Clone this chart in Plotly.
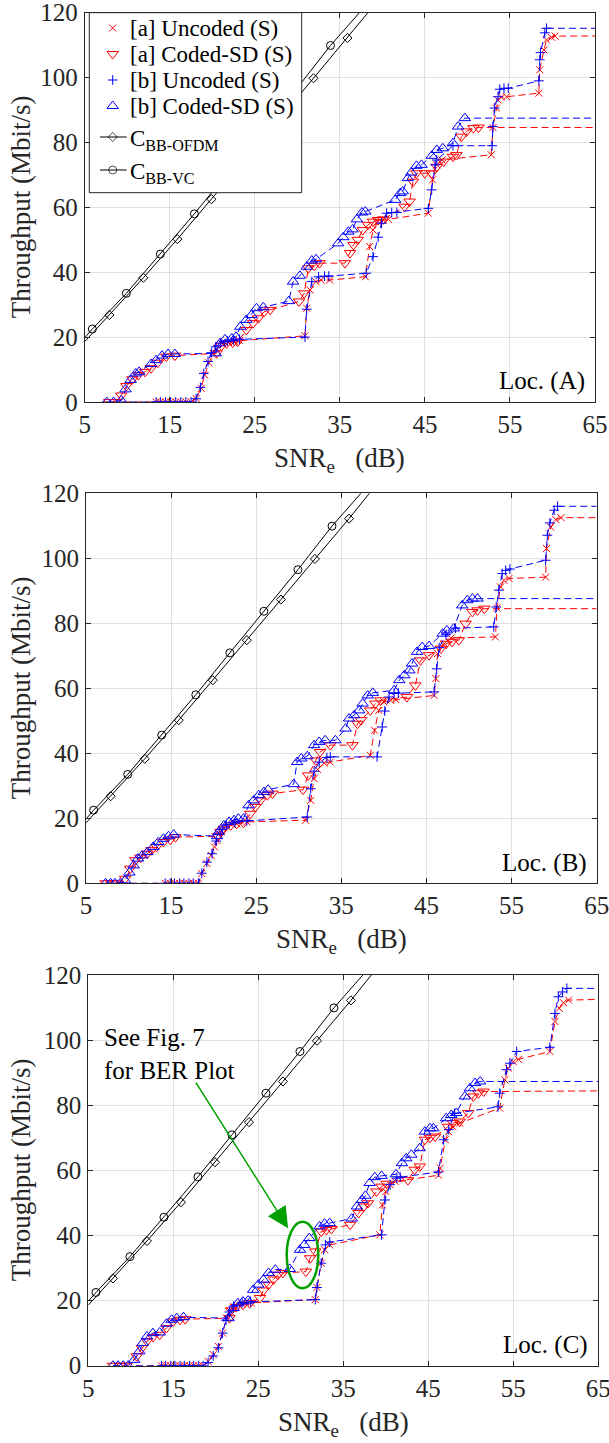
import plotly.graph_objects as go

FONT = "Liberation Serif"
RED = "#ff0000"
BLUE = "#0000ff"
GREEN = "#00a000"
AXC = "#262626"

# ---------------- capacity curves (same in all panels) ----------------
cap_vc_snr = [5.0, 5.9, 9.9, 13.9, 17.9, 21.9, 25.9, 29.9, 33.9, 37.3]
cap_vc_thr = [19.8, 22.5, 33.5, 45.6, 58.0, 70.9, 83.7, 96.5, 109.9, 120.0]
cap_ofdm_snr = [5.0, 7.9, 11.9, 15.9, 19.9, 23.9, 27.9, 31.9, 35.9, 38.3]
cap_ofdm_thr = [18.6, 26.8, 38.3, 50.2, 62.5, 74.8, 87.3, 99.8, 112.2, 120.0]

# ---------------- Loc. (A) ----------------
A_a_unc_snr = [7.0, 13.4, 13.9, 14.5, 15.1, 15.7, 16.3, 16.9, 17.5, 18.1, 18.7, 19.1, 19.6, 20.1, 20.5, 21.1,
               21.9, 22.6, 23.2, 30.9, 31.1, 31.5, 32.2, 32.8, 33.8, 38.0, 38.5, 38.9, 39.5, 40.1, 40.7, 45.4,
               45.9, 46.4, 47.0, 52.8, 53.0, 53.4, 53.6, 54.0, 54.6, 58.4, 58.5, 59.0, 59.3, 59.9, 60.3, 65.0]
A_a_unc_thr = [0, 0, 0, 0, 0, 0, 0, 0, 0, 1.1, 4.2, 8.3, 12.1, 15.0, 16.5, 18.1,
               18.3, 18.6, 18.9, 20.4, 28.9, 34.5, 37.1, 37.6, 37.6, 38.6, 47.9, 53.0, 55.6, 56.1, 56.3, 58.2,
               68.5, 73.1, 74.6, 76.2, 84.6, 90.6, 93.1, 94.0, 94.1, 95.2, 102.4, 108.5, 111.6, 112.4, 112.8, 112.8]
A_a_cod_snr = [7.9, 8.5, 9.3, 9.9, 10.6, 11.3, 12.1, 12.8, 13.6, 14.6, 15.6, 20.5, 21.1, 21.7, 22.4, 23.0,
               24.0, 24.8, 25.4, 26.1, 26.8, 30.2, 30.8, 31.3, 32.0, 32.6, 35.6, 36.2, 36.6, 37.1, 37.7, 38.3,
               38.9, 39.5, 40.1, 42.6, 43.2, 43.6, 44.0, 45.0, 45.8, 46.4, 47.2, 48.3, 48.7, 49.3, 49.9, 50.7,
               51.3, 65.0]
A_a_cod_thr = [0, 0, 2.0, 4.9, 7.0, 8.3, 9.3, 10.4, 12.1, 14.0, 14.3, 15.0, 17.3, 18.1, 18.3, 18.6,
               22.2, 24.3, 25.8, 27.8, 28.4, 31.0, 33.5, 41.2, 42.0, 42.8, 42.8, 45.9, 48.4, 50.0, 53.0, 54.6,
               55.6, 56.1, 56.3, 60.2, 61.8, 67.9, 70.5, 70.5, 70.5, 72.5, 74.1, 75.6, 76.1, 81.8, 83.4, 84.4,
               84.6, 84.6]
A_b_unc_snr = [9.0, 13.4, 13.9, 14.5, 15.1, 15.7, 16.3, 16.9, 17.5, 18.1, 18.6, 19.0, 19.5, 19.9, 20.4, 21.0,
               21.8, 22.5, 23.2, 30.9, 31.1, 31.7, 32.5, 33.2, 33.7, 38.1, 38.9, 39.5, 39.9, 40.5, 41.1, 41.7,
               45.4, 45.8, 46.2, 46.4, 48.3, 52.9, 53.0, 53.2, 53.6, 53.8, 54.3, 54.8, 58.4, 58.5, 58.6, 59.1,
               59.3, 65.0]
A_b_unc_thr = [0, 0, 0, 0, 0, 0, 0, 0, 0, 1.0, 4.5, 8.8, 12.5, 15.2, 17.0, 18.2,
               18.8, 19.1, 19.3, 20.0, 28.6, 37.1, 38.6, 38.8, 38.8, 39.7, 44.8, 50.8, 55.1, 58.2, 58.4, 58.4,
               59.7, 65.4, 73.1, 74.6, 79.0, 79.0, 84.9, 90.6, 94.1, 96.4, 96.7, 96.7, 99.0, 105.5, 107.7, 113.8,
               115.2, 115.2]
A_b_cod_snr = [7.6, 8.4, 9.3, 9.8, 10.4, 11.0, 11.4, 12.8, 13.4, 14.1, 14.8, 15.6, 20.4, 20.9, 21.5, 22.3,
               22.8, 23.3, 24.0, 24.6, 25.2, 26.0, 29.0, 29.5, 30.3, 31.1, 31.7, 32.2, 34.8, 35.4, 36.0, 36.5,
               37.0, 37.6, 38.0, 41.5, 42.1, 42.4, 43.0, 43.4, 44.0, 44.6, 45.8, 46.4, 47.1, 48.3, 48.9, 49.7,
               65.0]
A_b_cod_thr = [0, 0, 0.5, 3.9, 6.8, 8.8, 9.3, 11.7, 12.9, 14.3, 14.8, 14.8, 15.0, 18.1, 19.3, 19.6,
               20.1, 23.2, 25.3, 26.8, 28.9, 29.2, 31.1, 37.1, 38.9, 41.7, 43.6, 44.0, 48.9, 50.8, 52.5, 53.2,
               56.3, 58.4, 58.7, 62.3, 64.4, 64.9, 69.0, 70.7, 72.8, 73.1, 75.9, 77.7, 78.2, 79.8, 84.9, 87.5,
               87.5]

# ---------------- Loc. (B) ----------------
B_a_unc_snr = [8.9, 14.3, 14.9, 15.4, 16.0, 16.5, 17.1, 17.6, 18.2, 18.6, 19.2, 19.7, 20.1, 20.4, 20.8, 21.2,
               22.7, 23.9, 30.8, 31.4, 31.8, 32.2, 33.0, 33.7, 38.4, 38.9, 39.4, 40.0, 40.8, 41.4, 45.9, 46.1,
               46.3, 47.1, 47.9, 53.1, 53.3, 53.7, 54.1, 54.7, 59.0, 59.1, 59.6, 60.2, 60.8, 65.0]
B_a_unc_thr = [0, 0, 0, 0, 0, 0, 0, 0, 0, 3.0, 6.1, 8.6, 11.2, 13.2, 15.8, 17.1,
               18.3, 18.9, 19.4, 25.5, 32.2, 35.0, 37.0, 37.3, 39.4, 47.1, 53.2, 55.8, 56.3, 56.5, 57.8, 63.0,
               70.7, 73.7, 75.5, 75.8, 84.7, 91.2, 93.2, 93.8, 94.2, 103.0, 109.6, 111.9, 112.5, 112.5]
B_a_cod_snr = [7.3, 8.0, 8.6, 9.6, 10.2, 10.8, 11.4, 12.2, 12.7, 13.3, 14.1, 14.9, 15.5, 20.5, 20.8, 21.2,
               22.0, 22.7, 23.5, 24.3, 24.9, 25.5, 26.3, 26.9, 30.5, 31.1, 32.0, 32.5, 33.7, 36.3, 36.9, 37.3,
               38.4, 39.0, 39.6, 42.7, 43.7, 44.3, 45.3, 46.7, 47.3, 48.0, 48.8, 49.6, 50.4, 51.0, 51.8, 65.0]
B_a_cod_thr = [0, 0, 0, 1.4, 4.5, 7.1, 7.9, 9.1, 10.2, 11.2, 12.7, 13.4, 14.2, 14.5, 15.8, 16.8,
               17.8, 18.3, 18.6, 21.4, 23.5, 25.5, 27.1, 27.6, 28.8, 33.2, 37.8, 40.4, 42.5, 42.5, 49.1, 50.2,
               53.2, 55.3, 56.3, 57.3, 60.9, 68.6, 70.2, 72.2, 73.7, 74.3, 74.8, 79.9, 83.5, 84.0, 84.5, 84.5]
B_b_unc_snr = [8.9, 14.3, 14.9, 15.4, 16.0, 16.5, 17.1, 17.6, 18.2, 18.6, 19.2, 19.8, 20.3, 21.0, 21.5, 22.5,
               23.9, 31.0, 31.4, 31.8, 32.4, 33.3, 33.7, 39.2, 39.8, 40.1, 40.6, 41.2, 41.7, 45.9, 46.2, 46.5,
               47.3, 48.4, 52.9, 53.2, 53.5, 53.9, 54.3, 54.8, 59.0, 59.2, 59.5, 60.0, 60.4, 65.0]
B_b_unc_thr = [0, 0, 0, 0, 0, 0, 0, 0, 0, 3.1, 6.5, 9.1, 13.0, 16.5, 18.0, 18.6,
               19.2, 20.4, 29.1, 34.5, 37.3, 38.7, 38.9, 38.9, 48.1, 53.0, 57.3, 58.4, 58.5, 58.9, 66.0, 72.5,
               76.5, 78.5, 78.9, 85.0, 90.2, 95.3, 96.3, 96.7, 99.4, 107.1, 110.9, 114.8, 116.0, 116.0]
B_b_cod_snr = [7.3, 7.9, 8.4, 9.0, 9.6, 10.1, 10.6, 11.1, 11.6, 12.2, 12.9, 13.5, 14.1, 14.7, 15.3, 20.4,
               20.6, 21.2, 21.8, 22.4, 22.9, 23.5, 24.1, 24.7, 25.3, 25.9, 26.4, 29.4, 29.8, 30.3, 31.0, 31.8,
               32.4, 33.1, 34.3, 35.5, 35.9, 36.5, 37.1, 37.5, 38.1, 38.7, 41.2, 41.8, 42.4, 43.0, 43.3, 43.9,
               44.5, 45.3, 46.9, 47.4, 48.2, 49.2, 49.8, 50.4, 51.0, 65.0]
B_b_cod_thr = [0, 0, 0, 0, 0.9, 3.3, 5.5, 7.6, 8.6, 9.6, 11.2, 12.7, 13.7, 14.5, 15.0, 14.5,
               15.8, 17.8, 18.9, 19.4, 19.9, 19.9, 24.0, 25.5, 27.1, 28.1, 28.8, 30.5, 37.3, 38.4, 39.1, 42.5,
               43.5, 44.0, 44.0, 47.6, 50.7, 51.7, 53.2, 55.3, 57.8, 58.6, 59.4, 62.5, 64.0, 65.5, 67.6, 71.2,
               72.7, 73.0, 76.8, 77.8, 78.4, 85.5, 87.1, 87.6, 87.6, 87.6]

# ---------------- Loc. (C) ----------------
C_a_unc_snr = [10.6, 13.6, 14.1, 14.7, 15.2, 15.8, 16.3, 16.9, 17.4, 18.0, 18.5, 19.1, 19.7, 20.3, 20.8, 21.3,
               21.7, 22.1, 23.1, 24.1, 31.7, 31.9, 32.4, 32.8, 33.4, 39.3, 39.6, 40.0, 40.5, 41.1, 46.2, 46.4,
               47.0, 47.4, 47.9, 48.7, 53.4, 54.0, 54.4, 55.0, 55.6, 59.3, 59.9, 60.4, 60.9, 61.5, 65.0]
C_a_unc_thr = [0, 0, 0, 0, 0, 0, 0, 0, 0, 0, 0, 1.3, 3.4, 5.9, 10.0, 14.6,
               16.7, 18.2, 19.0, 19.3, 20.3, 24.0, 31.5, 35.6, 37.1, 40.2, 49.4, 53.5, 55.6, 56.6, 58.5, 60.7,
               69.4, 71.9, 73.4, 74.5, 79.1, 87.8, 91.4, 93.4, 94.1, 96.5, 105.7, 109.8, 111.5, 112.3, 112.5]
C_a_cod_snr = [7.9, 8.7, 9.5, 10.7, 11.3, 11.9, 12.6, 13.4, 14.2, 15.0, 15.8, 16.4, 21.6, 21.8, 22.4, 23.2,
               24.0, 25.2, 25.6, 26.2, 26.8, 27.3, 27.9, 30.6, 31.1, 31.7, 32.4, 33.0, 33.6, 35.8, 36.8, 37.4,
               37.9, 38.9, 39.5, 40.1, 42.6, 43.4, 44.0, 44.6, 45.2, 45.8, 47.3, 47.9, 48.7, 49.7, 50.3, 50.9,
               51.5, 65.0]
C_a_cod_thr = [0, 0, 0, 2.9, 5.4, 7.5, 8.8, 9.5, 11.6, 13.6, 14.1, 14.3, 14.6, 17.0, 18.0, 18.7,
               19.2, 20.8, 23.1, 24.9, 26.5, 27.9, 28.5, 28.9, 33.0, 35.1, 41.2, 41.7, 42.0, 43.3, 46.9, 48.9,
               49.9, 53.5, 55.0, 55.9, 57.0, 60.2, 61.2, 69.4, 70.0, 70.4, 73.4, 74.5, 75.0, 77.6, 82.7, 83.7,
               84.2, 84.4]
C_b_unc_snr = [10.6, 13.6, 14.1, 14.7, 15.2, 15.8, 16.3, 16.9, 17.4, 18.0, 18.5, 19.1, 19.7, 20.3, 20.8, 21.2,
               21.6, 22.1, 23.1, 24.1, 31.7, 31.9, 32.4, 32.9, 33.4, 39.5, 39.9, 40.5, 41.3, 41.7, 46.2, 46.8,
               47.4, 48.1, 53.2, 53.4, 54.2, 54.6, 55.4, 59.3, 59.9, 60.3, 60.8, 61.3, 65.0]
C_b_unc_thr = [0, 0, 0, 0, 0, 0, 0, 0, 0, 0, 0, 1.0, 3.0, 5.5, 10.0, 14.0,
               16.5, 18.3, 19.3, 19.6, 20.3, 24.0, 31.5, 37.1, 38.0, 40.2, 50.9, 55.6, 57.6, 57.9, 59.5, 69.4,
               72.5, 77.5, 79.5, 83.7, 90.9, 92.9, 96.5, 97.8, 108.2, 113.3, 114.8, 115.9, 115.9]
C_b_cod_snr = [7.9, 8.5, 9.1, 9.7, 10.4, 11.0, 11.4, 11.9, 12.6, 13.4, 14.2, 14.8, 15.4, 16.2, 21.5, 22.1,
               22.6, 23.2, 23.8, 24.4, 25.0, 25.6, 26.2, 27.0, 28.7, 29.9, 30.4, 31.0, 32.2, 32.8, 33.4, 36.0,
               36.6, 37.2, 37.6, 38.1, 38.7, 39.5, 41.2, 41.9, 42.4, 43.0, 44.0, 44.6, 45.2, 45.6, 47.1, 47.7,
               48.3, 49.3, 49.9, 50.5, 51.1, 65.0]
C_b_cod_thr = [0, 0, 0, 0, 1.8, 4.4, 7.0, 9.0, 10.0, 10.2, 12.9, 14.1, 14.6, 14.9, 14.6, 17.7,
               19.2, 19.7, 20.0, 23.3, 24.9, 26.4, 28.5, 29.5, 29.7, 35.6, 37.1, 39.2, 42.8, 43.6, 43.8, 45.2,
               48.9, 50.9, 52.2, 56.1, 57.9, 58.3, 58.8, 62.2, 63.7, 64.8, 66.8, 71.9, 72.9, 72.9, 76.0, 77.0,
               77.6, 82.7, 85.2, 86.8, 87.3, 87.3]

x_ticks = [5, 15, 25, 35, 45, 55, 65]
y_ticks = [0, 20, 40, 60, 80, 100, 120]
panel_labels = ["Loc. (A)", "Loc. (B)", "Loc. (C)"]
series_names = ["[a] Uncoded (S)", "[a] Coded-SD (S)", "[b] Uncoded (S)", "[b] Coded-SD (S)"]
cap_names = ["C<sub>BB-OFDM</sub>", "C<sub>BB-VC</sub>"]

panels = [
    [(A_a_unc_snr, A_a_unc_thr), (A_a_cod_snr, A_a_cod_thr), (A_b_unc_snr, A_b_unc_thr), (A_b_cod_snr, A_b_cod_thr)],
    [(B_a_unc_snr, B_a_unc_thr), (B_a_cod_snr, B_a_cod_thr), (B_b_unc_snr, B_b_unc_thr), (B_b_cod_snr, B_b_cod_thr)],
    [(C_a_unc_snr, C_a_unc_thr), (C_a_cod_snr, C_a_cod_thr), (C_b_unc_snr, C_b_unc_thr), (C_b_cod_snr, C_b_cod_thr)],
]

# pixel geometry of the three axes boxes (figure is 609 x 1443)
W, H = 609, 1443
boxes = [(84.7, 595.0, 12.7, 402.0), (86.0, 596.7, 493.3, 883.3), (88.3, 598.3, 975.0, 1365.7)]

styles = [
    dict(color=RED, symbol="x-thin", size=7, first=1),
    dict(color=RED, symbol="triangle-down-open", size=10, first=0),
    dict(color=BLUE, symbol="cross-thin", size=7, first=1),
    dict(color=BLUE, symbol="triangle-up-open", size=10, first=0),
]
cap_styles = [dict(symbol="diamond-open", size=7), dict(symbol="circle-open", size=8)]
DASH = "7px,4px"

fig = go.Figure()

for p, data in enumerate(panels):
    xa = "x" if p == 0 else f"x{p+1}"
    ya = "y" if p == 0 else f"y{p+1}"
    for (sx, sy), st in zip(data, styles):
        fig.add_trace(go.Scatter(x=sx, y=sy, mode="lines", xaxis=xa, yaxis=ya,
                                 line=dict(color=st["color"], width=1, dash=DASH),
                                 showlegend=False, hoverinfo="skip"))
        f = st["first"]
        fig.add_trace(go.Scatter(x=sx[f:-1], y=sy[f:-1], mode="markers", xaxis=xa, yaxis=ya,
                                 marker=dict(symbol=st["symbol"], size=st["size"], color=st["color"],
                                             line=dict(color=st["color"], width=1)),
                                 showlegend=False))
    for (cx, cy), cs in zip([(cap_ofdm_snr, cap_ofdm_thr), (cap_vc_snr, cap_vc_thr)], cap_styles):
        fig.add_trace(go.Scatter(x=cx, y=cy, mode="lines", xaxis=xa, yaxis=ya,
                                 line=dict(color="black", width=1), showlegend=False, hoverinfo="skip"))
        fig.add_trace(go.Scatter(x=cx[1:-1], y=cy[1:-1], mode="markers", xaxis=xa, yaxis=ya,
                                 marker=dict(symbol=cs["symbol"], size=cs["size"], color="black",
                                             line=dict(color="black", width=1)),
                                 showlegend=False))

# ---------------- legend (drawn on a pixel-space overlay) ----------------
LEG_BOX = (89.3, 301.7, 12.7, 192.7)
leg_rows = [28, 54, 80, 106]
leg_cap_rows = [137, 170]
leg_mark_x = 112.7
lx0, lx1, ly0, ly1 = LEG_BOX
fig.add_trace(go.Scatter(x=[lx0, lx1, lx1, lx0, lx0], y=[ly0, ly0, ly1, ly1, ly0], mode="lines",
                         fill="toself", fillcolor="white", line=dict(color=AXC, width=1),
                         xaxis="x4", yaxis="y4", showlegend=False, hoverinfo="skip"))
for row, st in zip(leg_rows, styles):
    fig.add_trace(go.Scatter(x=[leg_mark_x], y=[row], mode="markers", xaxis="x4", yaxis="y4",
                             marker=dict(symbol=st["symbol"], size=st["size"], color=st["color"],
                                         line=dict(color=st["color"], width=1)),
                             showlegend=False, hoverinfo="skip"))
for row, cs in zip(leg_cap_rows, cap_styles):
    fig.add_trace(go.Scatter(x=[100, leg_mark_x, 126.7], y=[row, row, row], mode="lines+markers",
                             xaxis="x4", yaxis="y4", line=dict(color="black", width=1),
                             marker=dict(symbol=cs["symbol"], size=[0, cs["size"], 0], color="black",
                                         line=dict(color="black", width=[0, 1, 0])),
                             showlegend=False, hoverinfo="skip"))

axis_common = dict(showline=True, linecolor=AXC, linewidth=1, mirror="ticks", ticks="inside",
                   ticklen=5, tickcolor=AXC, showgrid=True, gridcolor="#e0e0e0", gridwidth=1,
                   zeroline=False, automargin=False, ticklabeloverflow="allow",
                   tickfont=dict(family=FONT, size=25, color=AXC))

layout = dict(width=W, height=H, margin=dict(l=0, r=0, t=0, b=0, autoexpand=False),
              paper_bgcolor="white", plot_bgcolor="rgba(0,0,0,0)",
              font=dict(family=FONT, color=AXC), showlegend=False,
              xaxis4=dict(domain=[0, 1], range=[0, W], visible=False, anchor="y4", automargin=False),
              yaxis4=dict(domain=[0, 1], range=[H, 0], visible=False, anchor="x4", automargin=False))

annotations = []
for p, (l, r, t, b) in enumerate(boxes):
    sfx = "" if p == 0 else str(p + 1)
    layout["xaxis" + sfx] = dict(axis_common, domain=[l / W, r / W], range=[5, 65], tickvals=x_ticks,
                                 anchor="y" + sfx, ticklabelstandoff=0)
    layout["yaxis" + sfx] = dict(axis_common, domain=[1 - b / H, 1 - t / H], range=[0, 120], tickvals=y_ticks,
                                 anchor="x" + sfx, ticklabelstandoff=1)
    annotations.append(dict(text="Throughput (Mbit/s)", xref="paper", yref="paper", x=21 / W,
                            y=1 - (t + b) / 2 / H, textangle=-90, showarrow=False,
                            font=dict(family=FONT, size=27, color=AXC), xanchor="center", yanchor="middle"))
    annotations.append(dict(text="SNR<sub>e</sub>   (dB)", xref="paper", yref="paper", x=(l + r) / 2 / W,
                            y=1 - (b + 58) / H, showarrow=False,
                            font=dict(family=FONT, size=27, color=AXC), xanchor="center", yanchor="middle"))
    annotations.append(dict(text=panel_labels[p], xref=f"x{sfx} domain", yref=f"y{sfx} domain",
                            x=0.984, y=0.012, xanchor="right", yanchor="bottom", showarrow=False,
                            font=dict(family=FONT, size=25, color="black")))

for row, nm in zip(leg_rows, series_names):
    annotations.append(dict(text=nm, xref="x4", yref="y4", x=128, y=row, xanchor="left", yanchor="middle",
                            showarrow=False, font=dict(family=FONT, size=23, color="black")))
for row, nm in zip(leg_cap_rows, cap_names):
    annotations.append(dict(text=nm, xref="x4", yref="y4", x=128, y=row + 3, xanchor="left",
                            yanchor="middle", showarrow=False, font=dict(family=FONT, size=23, color="black")))

annotations.append(dict(text="See Fig. 7<br>for BER Plot", xref="x3", yref="y3", x=6.6, y=105.5,
                        xanchor="left", yanchor="top", align="left", showarrow=False,
                        font=dict(family=FONT, size=25, color="black")))
annotations.append(dict(text="", xref="x3", yref="y3", x=28.5, y=42.2, axref="x3", ayref="y3",
                        ax=17.55, ay=87.4, showarrow=True, arrowhead=2, arrowsize=2.8,
                        arrowwidth=1.5, arrowcolor=GREEN))
layout["annotations"] = annotations
layout["shapes"] = [dict(type="circle", xref="x3", yref="y3", x0=28.34, x1=32.06, y0=23.8, y1=44.2,
                         line=dict(color=GREEN, width=2.5))]

fig.update_layout(**layout)
fig.write_html("out.html", config={"displayModeBar": False, "staticPlot": True},
               post_script="document.body.style.margin='0px';document.body.style.overflow='hidden';")
